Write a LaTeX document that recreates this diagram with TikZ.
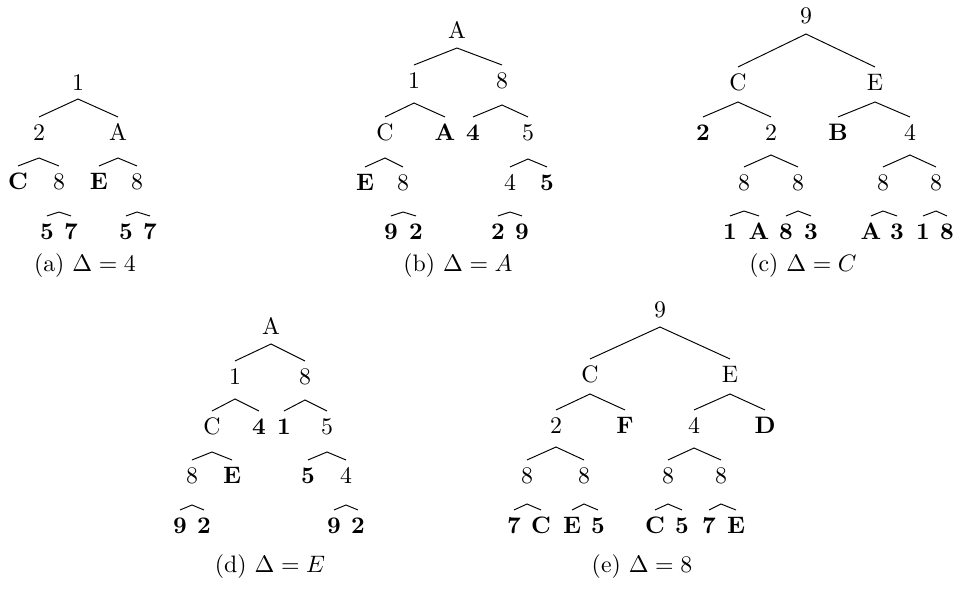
\documentclass[tikz,border=0pt]{standalone}
\usepackage{amsmath}
\usepackage{tikz}
\usetikzlibrary{calc}
\tikzset{
  tnode/.style={inner sep=2.7pt, text height=6.83pt, text depth=0pt},
  leaf/.style={tnode, font=\bfseries},
  sublabel/.style={inner sep=0pt}
}
% fork under a parent: apex drop, left child, right child
\newcommand{\branch}[4]{%
  \coordinate (#1v) at ($(#1.center)+(0,#2)$);
  \draw (#3.north) -- (#1v) -- (#4.north);}

\begin{document}
\begin{tikzpicture}[x=0.42pt, y=-0.42pt]
  \useasboundingbox (0,0) rectangle (958,588);

  % (a)
  \node[tnode] (a0) at (78,82) {1};
  \node[tnode] (a1) at (39,132) {2};
  \node[tnode] (a2) at (118,132) {A};
  \node[leaf] (a11) at (18,181) {C};
  \node[tnode] (a12) at (59,181) {8};
  \node[leaf] (a21) at (99,181) {E};
  \node[tnode] (a22) at (137,181) {8};
  \node[leaf] (a121) at (47,231) {5};
  \node[leaf] (a122) at (71,231) {7};
  \node[leaf] (a221) at (126,231) {5};
  \node[leaf] (a222) at (150,231) {7};
  \branch{a0}{17}{a1}{a2}
  \branch{a1}{26}{a11}{a12}
  \branch{a2}{26}{a21}{a22}
  \branch{a12}{31}{a121}{a122}
  \branch{a22}{31}{a221}{a222}
  \node[sublabel] (capa) at (85,266) {(a) $\Delta = 4$};

  % (b)
  \node[tnode] (b0) at (457,30) {A};
  \node[tnode] (b1) at (414,80) {1};
  \node[tnode] (b2) at (502,80) {8};
  \node[tnode] (b11) at (385,132) {C};
  \node[leaf] (b12) at (445,132) {A};
  \node[leaf] (b21) at (473,132) {4};
  \node[tnode] (b22) at (528,132) {5};
  \node[leaf] (b111) at (365,182) {E};
  \node[tnode] (b112) at (403,182) {8};
  \node[tnode] (b221) at (510,182) {4};
  \node[leaf] (b222) at (547,182) {5};
  \node[leaf] (b1121) at (391,231) {9};
  \node[leaf] (b1122) at (416,231) {2};
  \node[leaf] (b2211) at (498,231) {2};
  \node[leaf] (b2212) at (522,231) {9};
  \branch{b0}{18}{b1}{b2}
  \branch{b1}{23}{b11}{b12}
  \branch{b2}{25}{b21}{b22}
  \branch{b11}{26}{b111}{b112}
  \branch{b22}{27}{b221}{b222}
  \branch{b112}{30}{b1121}{b1122}
  \branch{b221}{30}{b2211}{b2212}
  \node[sublabel] (capb) at (458,266) {(b) $\Delta = A$};

  % (c)
  \node[tnode] (c0) at (806,15) {9};
  \node[tnode] (c1) at (738,82) {C};
  \node[tnode] (c2) at (875,82) {E};
  \node[leaf] (c11) at (703,132) {2};
  \node[tnode] (c12) at (771,132) {2};
  \node[leaf] (c21) at (838,132) {B};
  \node[tnode] (c22) at (910,132) {4};
  \node[tnode] (c121) at (744,182) {8};
  \node[tnode] (c122) at (798,182) {8};
  \node[tnode] (c221) at (883,182) {8};
  \node[tnode] (c222) at (936,182) {8};
  \node[leaf] (c1211) at (730,231) {1};
  \node[leaf] (c1212) at (759,231) {A};
  \node[leaf] (c1221) at (786,231) {8};
  \node[leaf] (c1222) at (811,231) {3};
  \node[leaf] (c2211) at (871,231) {A};
  \node[leaf] (c2212) at (897,231) {3};
  \node[leaf] (c2221) at (923,231) {1};
  \node[leaf] (c2222) at (947,231) {8};
  \branch{c0}{19}{c1}{c2}
  \branch{c1}{20}{c11}{c12}
  \branch{c2}{20}{c21}{c22}
  \branch{c12}{23}{c121}{c122}
  \branch{c22}{23}{c221}{c222}
  \branch{c121}{29}{c1211}{c1212}
  \branch{c122}{29}{c1221}{c1222}
  \branch{c221}{29}{c2211}{c2212}
  \branch{c222}{29}{c2221}{c2222}
  \node[sublabel] (capc) at (803,266) {(c) $\Delta = C$};

  % (d)
  \node[tnode] (d0) at (271,326) {A};
  \node[tnode] (d1) at (235,376) {1};
  \node[tnode] (d2) at (305,376) {8};
  \node[tnode] (d11) at (212,426) {C};
  \node[leaf] (d12) at (259,426) {4};
  \node[leaf] (d21) at (284,426) {1};
  \node[tnode] (d22) at (327,426) {5};
  \node[tnode] (d111) at (192,475) {8};
  \node[leaf] (d112) at (232,475) {E};
  \node[leaf] (d221) at (308,475) {5};
  \node[tnode] (d222) at (346,475) {4};
  \node[leaf] (d1111) at (180,525) {9};
  \node[leaf] (d1112) at (204,525) {2};
  \node[leaf] (d2221) at (334,525) {9};
  \node[leaf] (d2222) at (358,525) {2};
  \branch{d0}{18}{d1}{d2}
  \branch{d1}{23}{d11}{d12}
  \branch{d2}{24}{d21}{d22}
  \branch{d11}{26}{d111}{d112}
  \branch{d22}{26}{d221}{d222}
  \branch{d111}{30}{d1111}{d1112}
  \branch{d222}{30}{d2221}{d2222}
  \node[sublabel] (capd) at (270,567) {(d) $\Delta = E$};

  % (e)
  \node[tnode] (e0) at (660,309) {9};
  \node[tnode] (e1) at (590,374) {C};
  \node[tnode] (e2) at (730,374) {E};
  \node[tnode] (e11) at (556,425) {2};
  \node[leaf] (e12) at (625,425) {F};
  \node[tnode] (e21) at (694,425) {4};
  \node[leaf] (e22) at (765,425) {D};
  \node[tnode] (e111) at (527,475) {8};
  \node[tnode] (e112) at (584,475) {8};
  \node[tnode] (e211) at (668,475) {8};
  \node[tnode] (e212) at (721,475) {8};
  \node[leaf] (e1111) at (514,525) {7};
  \node[leaf] (e1112) at (541,525) {C};
  \node[leaf] (e1121) at (572,525) {E};
  \node[leaf] (e1122) at (598,525) {5};
  \node[leaf] (e2111) at (655,525) {C};
  \node[leaf] (e2112) at (682,525) {5};
  \node[leaf] (e2121) at (709,525) {7};
  \node[leaf] (e2122) at (736,525) {E};
  \branch{e0}{18}{e1}{e2}
  \branch{e1}{20}{e11}{e12}
  \branch{e2}{20}{e21}{e22}
  \branch{e11}{22}{e111}{e112}
  \branch{e21}{23}{e211}{e212}
  \branch{e111}{29}{e1111}{e1112}
  \branch{e112}{29}{e1121}{e1122}
  \branch{e211}{29}{e2111}{e2112}
  \branch{e212}{29}{e2121}{e2122}
  \node[sublabel] (cape) at (642,567) {(e) $\Delta = 8$};
\end{tikzpicture}
\end{document}
